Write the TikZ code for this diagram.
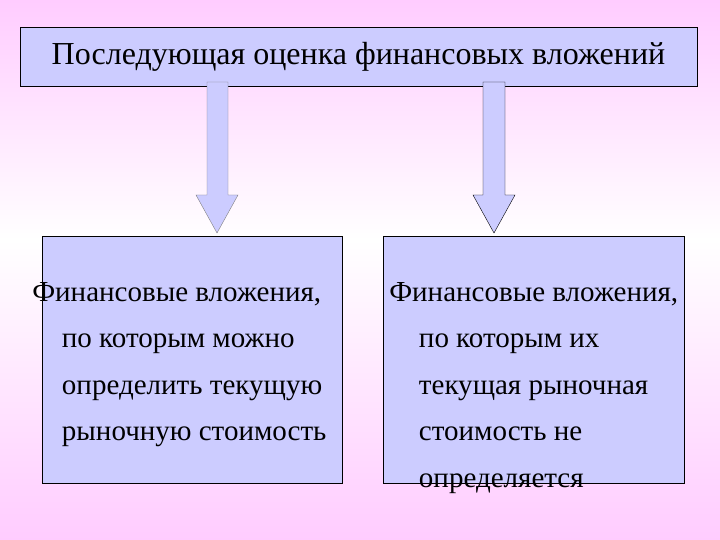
\documentclass[tikz,border=0pt]{standalone}
\usepackage{fontspec}
\setmainfont{Liberation Serif}
\begin{document}
\begin{tikzpicture}[x=1pt,y=1pt,
  boxst/.style={draw=black,fill={rgb,255:red,204;green,204;blue,255}},
  txt/.style={inner sep=0,anchor=north west,align=left,font=\fontsize{21.5}{34.5}\selectfont}]
\fill[top color={rgb,255:red,255;green,204;blue,255},bottom color=white] (0,540) rectangle (720,300);
\fill[top color=white,bottom color={rgb,255:red,255;green,204;blue,255}] (0,300) rectangle (720,0);
\useasboundingbox (0,0) rectangle (720,540);
\node[boxst,minimum width=677pt,minimum height=59pt,font=\fontsize{32}{36}\selectfont] (title) at (358.5,483.5) {Последующая оценка финансовых вложений};
\draw[boxst] (42,57) rectangle (342,304);
\draw[boxst] (383,57) rectangle (684,304);
\filldraw[fill={rgb,255:red,204;green,204;blue,255},draw=gray] (207,458) -- (228,458) -- (228,345) -- (238,345) -- (217,307) -- (196,345) -- (207,345) -- cycle;
\filldraw[fill={rgb,255:red,204;green,204;blue,255},draw=black] (483,458) -- (505,458) -- (505,345) -- (515,345) -- (494,307) -- (473,345) -- (483,345) -- cycle;
\node[txt,scale=1.35] (lt) at (32,258) {Финансовые вложения,\\\hspace*{22pt}по которым можно\\\hspace*{22pt}определить текущую\\\hspace*{22pt}рыночную стоимость};
\node[txt,scale=1.35] (rt) at (389,258) {Финансовые вложения,\\\hspace*{22pt}по которым их\\\hspace*{22pt}текущая рыночная\\\hspace*{22pt}стоимость не\\\hspace*{22pt}определяется};
\end{tikzpicture}
\end{document}
